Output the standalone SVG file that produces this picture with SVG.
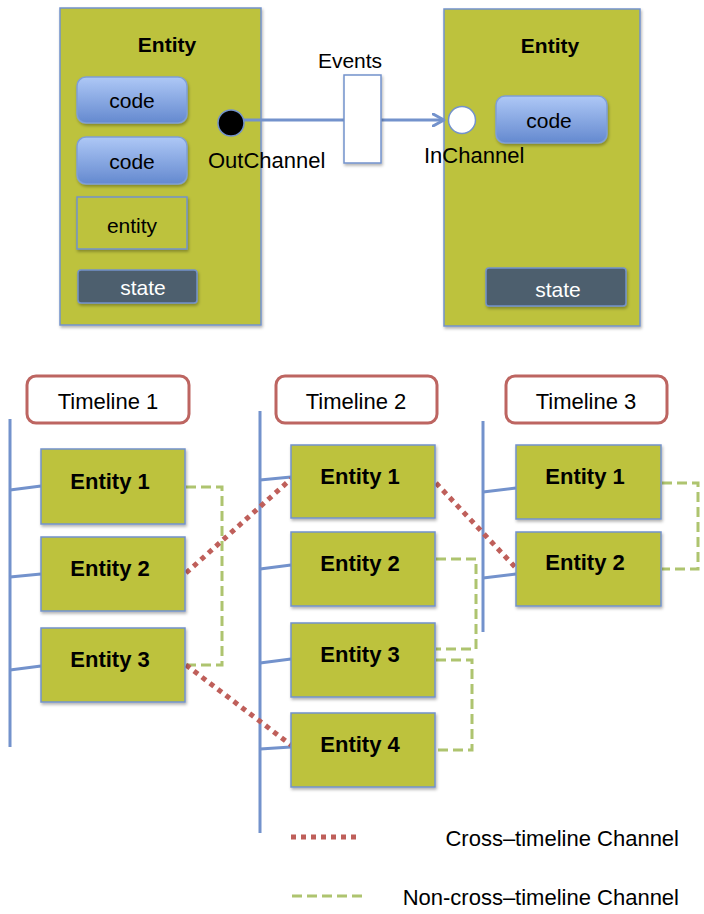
<svg xmlns="http://www.w3.org/2000/svg" width="704" height="914" viewBox="0 0 704 914">
<defs>
<linearGradient id="blueg" x1="0" y1="0" x2="0" y2="1">
<stop offset="0" stop-color="#aec8f6"/>
<stop offset="1" stop-color="#6489cf"/>
</linearGradient>
<filter id="sh" x="-10%" y="-10%" width="130%" height="130%">
<feDropShadow dx="1" dy="2" stdDeviation="1.5" flood-color="#000" flood-opacity="0.3"/>
</filter>
<marker id="arr" markerWidth="14" markerHeight="14" refX="12" refY="7" orient="auto" markerUnits="userSpaceOnUse">
<path d="M1,1 L12,7 L1,13" fill="none" stroke="#7392cc" stroke-width="3" stroke-linecap="round" stroke-linejoin="round"/>
</marker>
</defs>
<style>
.olive{fill:#bdc23e;stroke:#7392cc;stroke-width:1.5}
.code{fill:url(#blueg);stroke:#7f9fd6;stroke-width:1.5}
.state{fill:#4e5f6e;stroke:#7392cc;stroke-width:1.5}
.tl{fill:#fff;stroke:#bd6561;stroke-width:3}
.axis{stroke:#7392cc;stroke-width:3;fill:none}
.br{stroke:#7392cc;stroke-width:3;fill:none}
.red{stroke:#bf5f5a;stroke-width:5;stroke-dasharray:5 5;fill:none}
.green{stroke:#aec46f;stroke-width:3;stroke-dasharray:10 5;fill:none}
text{font-family:"Liberation Sans",Arial,sans-serif;fill:#000}
.b{font-weight:bold;font-size:21px;text-anchor:middle}
.n{font-size:21px;text-anchor:middle}
.t{font-size:22px;text-anchor:middle}
.l{font-size:22px}
.eb{font-weight:bold;font-size:22px;text-anchor:middle}
</style>

<g id="entityA">
<rect x="60" y="8" width="201" height="317" class="olive" filter="url(#sh)"/>
<text x="167" y="52" class="b">Entity</text>
</g>
<g id="codeA1"><rect x="77" y="77" width="110" height="46" rx="9" class="code" filter="url(#sh)"/><text x="132" y="108" class="n">code</text></g>
<g id="codeA2"><rect x="77" y="137" width="110" height="47" rx="9" class="code" filter="url(#sh)"/><text x="132" y="169" class="n">code</text></g>
<g id="entityInner"><rect x="77" y="197" width="110" height="52" class="olive" filter="url(#sh)"/><text x="132" y="233" class="n">entity</text></g>
<g id="stateA"><rect x="78" y="270" width="119" height="33" rx="3" class="state" filter="url(#sh)"/><text x="143" y="295" class="n" style="fill:#fff">state</text></g>

<g id="entityB">
<rect x="444" y="9" width="196" height="317" class="olive" filter="url(#sh)"/>
<text x="550" y="53" class="b">Entity</text>
</g>
<g id="codeB"><rect x="496" y="96" width="111" height="47" rx="9" class="code" filter="url(#sh)"/><text x="549" y="128" class="n">code</text></g>
<g id="stateB"><rect x="486" y="268" width="140" height="38" rx="3" class="state" filter="url(#sh)"/><text x="558" y="297" class="n" style="fill:#fff">state</text></g>

<g id="connectors-top">
<line x1="244" y1="120" x2="444" y2="120" stroke="#7392cc" stroke-width="3" marker-end="url(#arr)"/>
</g>
<g id="events"><rect x="344" y="75" width="37" height="88" fill="#fff" stroke="#7392cc" stroke-width="1.5" filter="url(#sh)"/><text x="350" y="68" class="n">Events</text></g>
<g id="outchannel"><circle cx="231" cy="123" r="13" fill="#000" stroke="#7392cc" stroke-width="1.5"/><text x="208" y="168" class="l">OutChannel</text></g>
<g id="inchannel"><circle cx="462" cy="120" r="13.5" fill="#fff" stroke="#7392cc" stroke-width="1.5"/><text x="424" y="163" class="l">InChannel</text></g>

<g id="timeline1"><rect x="27" y="376" width="162" height="47" rx="9" class="tl"/><text x="108" y="409" class="t">Timeline 1</text></g>
<g id="timeline2"><rect x="276" y="376" width="161" height="47" rx="9" class="tl"/><text x="356" y="409" class="t">Timeline 2</text></g>
<g id="timeline3"><rect x="506" y="376" width="161" height="47" rx="9" class="tl"/><text x="586" y="409" class="t">Timeline 3</text></g>

<g id="axes">
<line x1="10" y1="419" x2="10" y2="747" class="axis"/>
<line x1="260" y1="411" x2="260" y2="833" class="axis"/>
<line x1="483" y1="421" x2="483" y2="632" class="axis"/>
</g>

<g id="connectors">
<line x1="10" y1="490" x2="41" y2="486" class="br"/>
<line x1="10" y1="577" x2="41" y2="574" class="br"/>
<line x1="10" y1="670" x2="41" y2="666" class="br"/>
<line x1="260" y1="480" x2="291" y2="477" class="br"/>
<line x1="260" y1="569" x2="291" y2="565" class="br"/>
<line x1="260" y1="663" x2="291" y2="659" class="br"/>
<line x1="260" y1="749" x2="291" y2="747" class="br"/>
<line x1="483" y1="492" x2="516" y2="488" class="br"/>
<line x1="483" y1="578" x2="516" y2="574" class="br"/>
<polyline points="186,487 222,487 222,665 186,665" class="green"/>
<polyline points="436,559 476,559 476,649 436,649" class="green"/>
<polyline points="436,660 472,660 472,750 436,750" class="green"/>
<polyline points="662,483 698,483 698,569 662,569" class="green"/>
<line x1="186" y1="573" x2="291" y2="479" class="red"/>
<line x1="186" y1="665" x2="291" y2="745" class="red"/>
<line x1="436" y1="483" x2="516" y2="568" class="red"/>
</g>

<g id="t1e1"><rect x="41" y="449" width="144" height="75" class="olive" filter="url(#sh)"/><text x="110" y="489" class="eb">Entity 1</text></g>
<g id="t1e2"><rect x="41" y="537" width="144" height="74" class="olive" filter="url(#sh)"/><text x="110" y="576" class="eb">Entity 2</text></g>
<g id="t1e3"><rect x="41" y="628" width="144" height="74" class="olive" filter="url(#sh)"/><text x="110" y="667" class="eb">Entity 3</text></g>
<g id="t2e1"><rect x="291" y="445" width="144" height="73" class="olive" filter="url(#sh)"/><text x="360" y="484" class="eb">Entity 1</text></g>
<g id="t2e2"><rect x="291" y="532" width="144" height="74" class="olive" filter="url(#sh)"/><text x="360" y="571" class="eb">Entity 2</text></g>
<g id="t2e3"><rect x="291" y="623" width="144" height="74" class="olive" filter="url(#sh)"/><text x="360" y="662" class="eb">Entity 3</text></g>
<g id="t2e4"><rect x="291" y="713" width="144" height="74" class="olive" filter="url(#sh)"/><text x="360" y="752" class="eb">Entity 4</text></g>
<g id="t3e1"><rect x="516" y="445" width="145" height="74" class="olive" filter="url(#sh)"/><text x="585" y="484" class="eb">Entity 1</text></g>
<g id="t3e2"><rect x="516" y="532" width="145" height="74" class="olive" filter="url(#sh)"/><text x="585" y="570" class="eb">Entity 2</text></g>

<g id="legend">
<line x1="291" y1="837" x2="361" y2="837" class="red"/>
<line x1="292" y1="896" x2="367" y2="896" class="green"/>
<text x="679" y="846" class="l" style="text-anchor:end">Cross–timeline Channel</text>
<text x="679" y="905" class="l" style="text-anchor:end">Non-cross–timeline Channel</text>
</g>
</svg>
